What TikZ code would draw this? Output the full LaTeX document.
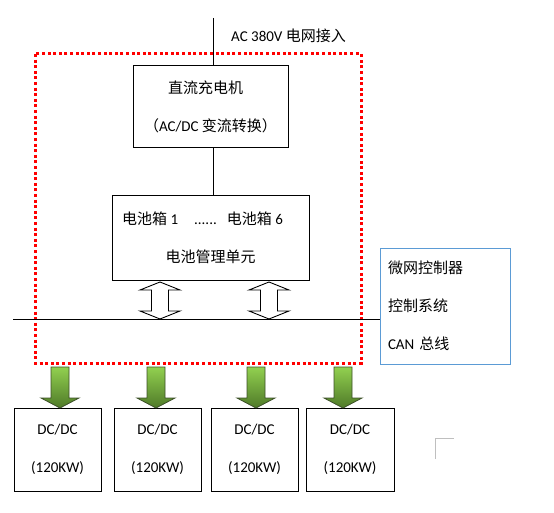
\documentclass[tikz,border=0pt]{standalone}
\usepackage{fontspec}
\setmainfont{Carlito}
\newfontfamily\cjk{Noto Sans CJK SC}
\usetikzlibrary{positioning, calc}

\definecolor{ctrlblue}{RGB}{91,155,213}
\definecolor{arrowtop}{RGB}{146,208,80}
\definecolor{arrowbot}{RGB}{79,122,40}
\definecolor{arrowline}{RGB}{60,80,40}

\begin{document}
\begin{tikzpicture}[
    x=1pt, y=-1pt,
    every node/.style={font=\fontsize{15pt}{38pt}\selectfont},
    box/.style={draw, line width=1pt, align=center, inner sep=0pt},
    wire/.style={line width=1pt},
    zone/.style={red, line width=3pt, dash pattern=on 3pt off 2.6pt},
    twoway/.style={draw, fill=white, line width=0.9pt},
    feed/.style={draw=arrowline, line width=0.8pt, top color=arrowtop, bottom color=arrowbot}
  ]
    \useasboundingbox (0,0) rectangle (554,513);

    % dotted zone round charger and battery
    \draw[zone] (35,54) rectangle (361,363);

    % grid feed
    \coordinate (acTop) at (213,18);
    \node[anchor=west, inner sep=0pt] (acLabel) at (231,36) {AC 380V {\cjk 电网接入}};

    % charger and battery
    \node[box, minimum width=155pt, minimum height=82pt] (charger) at (210.5,107)
      {{\cjk 直流充电机}\makebox[10pt]{}\\{\cjk （}AC/DC {\cjk 变流转换）}};
    \node[box, minimum width=197pt, minimum height=84pt] (battery) at (210.5,238)
      {{\cjk 电池箱} 1\hspace{16pt}......\hspace{10pt}{\cjk 电池箱} 6\makebox[16pt]{}\\{\cjk 电池管理单元}};

    \draw[wire] (acTop) -- (acTop |- charger.north);
    \draw[wire] (charger.south -| acTop) -- (battery.north -| acTop);

    % controller and CAN bus
    \node[box, draw=ctrlblue, minimum width=130pt, minimum height=116pt,
          text width=114pt, align=left, inner sep=8pt] (ctrl) at (445,306)
      {{\cjk 微网控制器}\\{\cjk 控制系统}\\CAN {\cjk 总线}};
    \coordinate (busL) at (13,319);
    \draw[wire] (busL) -- (busL -| ctrl.west);

    % two-way arrows battery <-> bus
    \foreach \cx in {160,269} {
      \draw[twoway] (\cx,282) -- (\cx+20,290) -- (\cx+8.5,290) -- (\cx+8.5,311)
        -- (\cx+20,311) -- (\cx,319) -- (\cx-20,311) -- (\cx-8.5,311)
        -- (\cx-8.5,290) -- (\cx-20,290) -- cycle;
    }

    % DC/DC converters
    \foreach \i/\xl/\xr in {1/14/101, 2/114/201, 3/211/298, 4/306/394} {
      \node[box, minimum width=\xr pt-\xl pt, minimum height=83pt] (dc\i)
        at ({(\xl+\xr)/2},449.5) {DC/DC\\(120KW)};
    }

    % feed arrows down to converters
    \foreach \i/\cx in {1/60, 2/156, 3/256, 4/343} {
      \draw[feed] (\cx-9,367) -- (\cx+9,367) -- (\cx+9,398) -- (\cx+19,398)
        -- (\cx,408) -- (\cx-19,398) -- (\cx-9,398) -- cycle;
    }

    % corner mark
    \draw[gray!50, line width=1pt] (435,459) -- (435,438) -- (454,438);

  \end{tikzpicture}
\end{document}
